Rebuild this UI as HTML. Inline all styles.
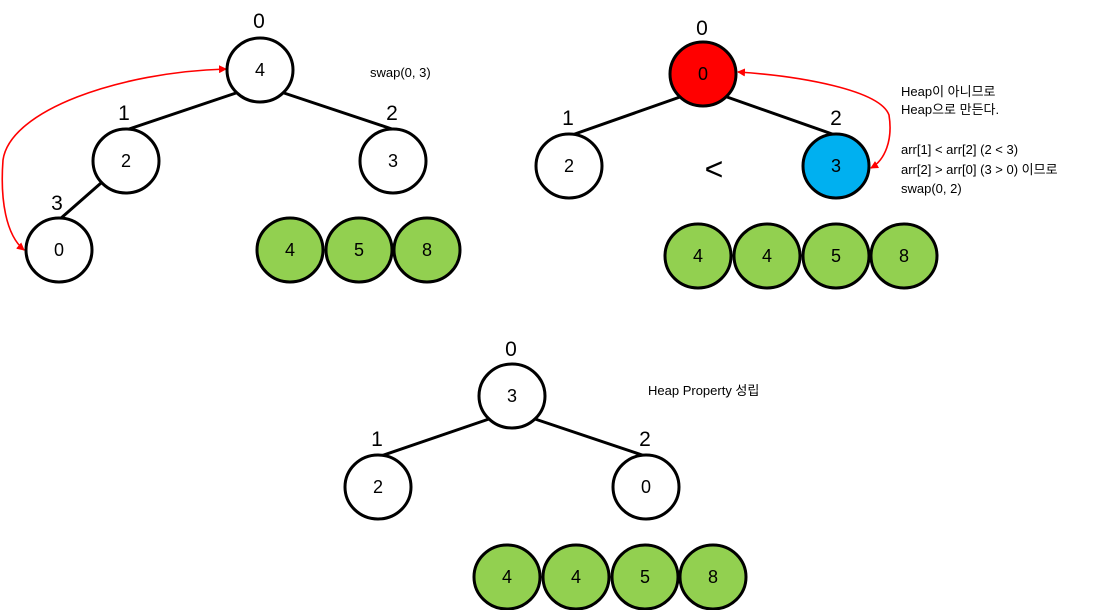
<!DOCTYPE html>
<html><head><meta charset="utf-8"><style>
html,body{margin:0;padding:0;background:#fff;width:1119px;height:610px;overflow:hidden}
text{font-family:"Liberation Sans","Noto Sans CJK KR",sans-serif}
</style></head><body>
<svg width="1119" height="610" viewBox="0 0 1119 610" xmlns="http://www.w3.org/2000/svg">
<defs><marker id="a" markerWidth="8" markerHeight="8" refX="7" refY="4" orient="auto-start-reverse" markerUnits="userSpaceOnUse"><path d="M0,0 L8,4 L0,8 z" fill="#f00"/></marker></defs>
<g stroke="#000" stroke-width="3" fill="none">
<line x1="236" y1="93" x2="129" y2="129"/><line x1="284" y1="93" x2="392" y2="129"/><line x1="101" y1="183" x2="60" y2="219"/>
<line x1="680" y1="97" x2="572" y2="135"/><line x1="727" y1="97" x2="835" y2="135"/>
<line x1="489" y1="419" x2="381" y2="456"/><line x1="535" y1="419" x2="645" y2="456"/>
</g>
<g stroke="#f00" stroke-width="1.6" fill="none">
<path d="M226,69 C120,72 10,110 3,160 C0,200 6,235 24,250" marker-start="url(#a)" marker-end="url(#a)"/>
<path d="M738,72 C800,76 880,90 889,115 C893,140 885,160 871,168" marker-start="url(#a)" marker-end="url(#a)"/>
</g>
<g stroke="#000" stroke-width="3">
<ellipse cx="260" cy="70" rx="33" ry="32" fill="#fff"/>
<ellipse cx="126" cy="161" rx="33" ry="32" fill="#fff"/>
<ellipse cx="393" cy="161" rx="33" ry="32" fill="#fff"/>
<ellipse cx="59" cy="250" rx="33" ry="32" fill="#fff"/>
<ellipse cx="290" cy="250" rx="33" ry="32" fill="#92d050"/>
<ellipse cx="359" cy="250" rx="33" ry="32" fill="#92d050"/>
<ellipse cx="427" cy="250" rx="33" ry="32" fill="#92d050"/>
<ellipse cx="703" cy="74" rx="33" ry="32" fill="#f00"/>
<ellipse cx="569" cy="166" rx="33" ry="32" fill="#fff"/>
<ellipse cx="836" cy="166" rx="33" ry="32" fill="#00b0f0"/>
<ellipse cx="698" cy="256" rx="33" ry="32" fill="#92d050"/>
<ellipse cx="767" cy="256" rx="33" ry="32" fill="#92d050"/>
<ellipse cx="836" cy="256" rx="33" ry="32" fill="#92d050"/>
<ellipse cx="904" cy="256" rx="33" ry="32" fill="#92d050"/>
<ellipse cx="512" cy="396" rx="33" ry="32" fill="#fff"/>
<ellipse cx="378" cy="487" rx="33" ry="32" fill="#fff"/>
<ellipse cx="646" cy="487" rx="33" ry="32" fill="#fff"/>
<ellipse cx="507" cy="577" rx="33" ry="32" fill="#92d050"/>
<ellipse cx="576" cy="577" rx="33" ry="32" fill="#92d050"/>
<ellipse cx="645" cy="577" rx="33" ry="32" fill="#92d050"/>
<ellipse cx="713" cy="577" rx="33" ry="32" fill="#92d050"/>
</g>
<g font-size="18" text-anchor="middle" fill="#000">
<text x="260" y="76">4</text><text x="126" y="167">2</text><text x="393" y="167">3</text><text x="59" y="256">0</text>
<text x="290" y="256">4</text><text x="359" y="256">5</text><text x="427" y="256">8</text>
<text x="703" y="80">0</text><text x="569" y="172">2</text><text x="836" y="172">3</text>
<text x="698" y="262">4</text><text x="767" y="262">4</text><text x="836" y="262">5</text><text x="904" y="262">8</text>
<text x="512" y="402">3</text><text x="378" y="493">2</text><text x="646" y="493">0</text>
<text x="507" y="583">4</text><text x="576" y="583">4</text><text x="645" y="583">5</text><text x="713" y="583">8</text>
</g>
<g font-size="21" text-anchor="middle" fill="#000">
<text x="259" y="28">0</text><text x="124" y="120">1</text><text x="392" y="120">2</text><text x="57" y="210">3</text>
<text x="702" y="35">0</text><text x="568" y="125">1</text><text x="836" y="125">2</text>
<text x="511" y="356">0</text><text x="377" y="446">1</text><text x="645" y="446">2</text>
<text x="714" y="180" font-size="32">&lt;</text>
</g>
<g font-size="13" fill="#000">
<text x="370" y="77">swap(0, 3)</text>
<text x="901" y="96">Heap이 아니므로</text>
<text x="901" y="114">Heap으로 만든다.</text>
<text x="901" y="154">arr[1] &lt; arr[2] (2 &lt; 3)</text>
<text x="901" y="174">arr[2] &gt; arr[0] (3 &gt; 0) 이므로</text>
<text x="901" y="193">swap(0, 2)</text>
<text x="648" y="395">Heap Property 성립</text>
</g>
</svg>
</body></html>
